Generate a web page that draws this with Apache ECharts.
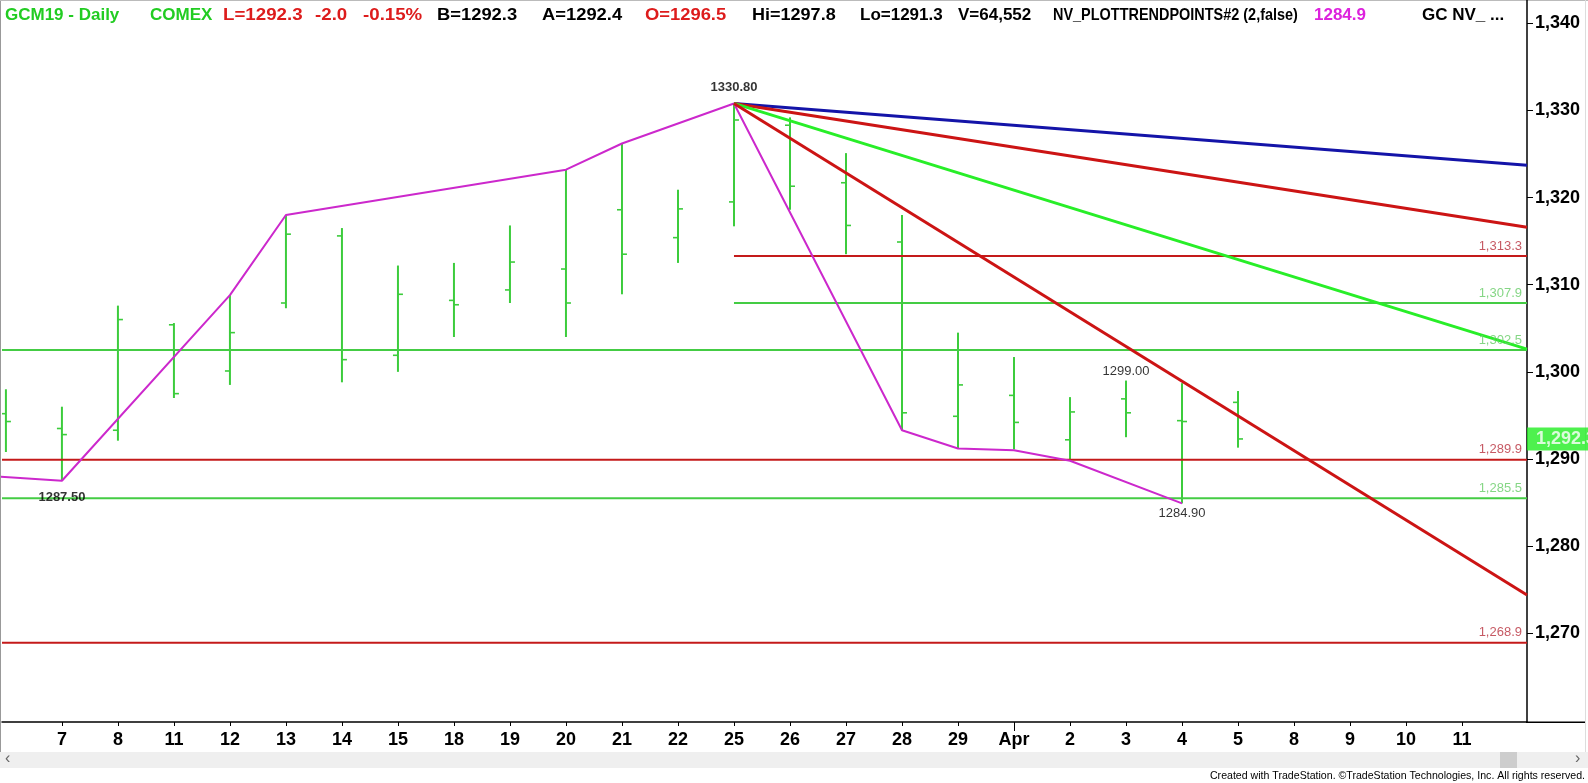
<!DOCTYPE html>
<html><head><meta charset="utf-8">
<script src="https://cdn.jsdelivr.net/npm/echarts@6/dist/echarts.min.js"></script>
<style>html,body{margin:0;padding:0;background:#fff}#c{width:1588px;height:783px}</style>
</head><body><div id="c"></div>
<script>
// ---- data ----
const dayLabels = ['6','7','8','11','12','13','14','15','18','19','20','21','22','25','26','27','28','29','Apr','2','3','4','5','8','9','10','11'];
const opens  = [1295.2,1293.5,1293.3,1305.4,1300.1,1307.9,1315.6,1301.9,1308.2,1309.4,1311.8,1318.6,1315.4,1319.5,1328.3,1321.7,1314.9,1294.9,1297.3,1292.2,1296.9,1294.4,1296.5];
const highs  = [1298.0,1296.0,1307.6,1305.6,1308.8,1318.0,1316.5,1312.2,1312.5,1316.8,1323.2,1326.2,1320.9,1330.8,1329.2,1325.1,1318.0,1304.5,1301.7,1297.1,1299.0,1298.7,1297.8];
const lows   = [1290.8,1287.5,1292.1,1297.0,1298.5,1307.3,1298.8,1300.0,1304.0,1307.9,1304.0,1308.9,1312.5,1316.7,1318.6,1313.5,1293.3,1291.2,1291.1,1290.0,1292.5,1284.9,1291.3];
const closes = [1294.3,1292.8,1306.0,1297.5,1304.5,1315.8,1301.4,1308.9,1307.7,1312.6,1307.9,1313.5,1318.7,1328.9,1321.3,1316.8,1295.3,1298.5,1294.2,1295.4,1295.3,1294.3,1292.3];
const trendIdx  = [-1, 1, 4, 5, 10, 11, 13, 16, 17, 18, 19, 21];
const trendVals = [1288.35,1287.5,1308.8,1318.0,1323.2,1326.2,1330.8,1293.3,1291.2,1291.0,1289.8,1284.9];
const gannAnchorIdx = 13, gannAnchorVal = 1330.8;
const gannEndVals = [1323.7, 1316.6, 1302.6, 1274.4];
const gannColors  = ['#1414a8', '#cc1414', '#28ee28', '#cc1414'];
const levelVals  = [1313.3, 1307.9, 1302.5, 1289.9, 1285.5, 1268.9];
const levelStart = [13, 13, null, null, null, null];
const levelRed   = [true, false, false, true, false, true];
const pivotIdx    = [1, 13, 20, 21];
const pivotVals   = [1287.5, 1330.8, 1299.0, 1284.9];
const pivotText   = ['1287.50', '1330.80', '1299.00', '1284.90'];
const pivotBelow  = [true, false, false, true];
const pivotBold   = [true, true, false, false];
const yTicks = [1270, 1280, 1290, 1300, 1310, 1320, 1330, 1340];
const lastClose = 1292.3;

// ---- layout ----
const X_MIN = -0.07, X_MAX = 27.16, Y_MIN = 1259.82, Y_MAX = 1342.67;
const GREEN_BAR = '#3ccc3c', RED_LV = '#c41a1a', GREEN_LV = '#44cc44';
const FONT = '"Liberation Sans", Arial, sans-serif';
const fmt = v => v.toLocaleString('en-US', {minimumFractionDigits: 1, maximumFractionDigits: 1});

const chart = echarts.init(document.getElementById('c'), null, {renderer: 'canvas'});
const barData = opens.map((o, i) => [i, o, highs[i], lows[i], closes[i]]);

const series = [];
series.push({
  type: 'custom', clip: true, z: 2,
  renderItem(params, api) {
    const x = api.value(0);
    const pH = api.coord([x, api.value(2)]), pL = api.coord([x, api.value(3)]);
    const pO = api.coord([x, api.value(1)]), pC = api.coord([x, api.value(4)]);
    const st = {stroke: GREEN_BAR, lineWidth: 2};
    return {type: 'group', children: [
      {type: 'line', shape: {x1: pH[0], y1: pH[1], x2: pL[0], y2: pL[1]}, style: st},
      {type: 'line', shape: {x1: pO[0] - 5, y1: pO[1], x2: pO[0], y2: pO[1]}, style: {stroke: GREEN_BAR, lineWidth: 1.6}},
      {type: 'line', shape: {x1: pC[0], y1: pC[1], x2: pC[0] + 5, y2: pC[1]}, style: {stroke: GREEN_BAR, lineWidth: 1.6}}
    ]};
  },
  encode: {x: 0, y: [1, 2, 3, 4]},
  data: barData
});
levelVals.forEach((v, i) => {
  series.push({
    type: 'line', z: 3, symbol: 'none', silent: true,
    lineStyle: {color: levelRed[i] ? RED_LV : GREEN_LV, width: 2},
    data: [[levelStart[i] === null ? X_MIN : levelStart[i], v], [X_MAX, v]]
  });
});
series.push({
  type: 'scatter', z: 6, symbolSize: 0, silent: true,
  data: levelVals.map((v, i) => ({value: [X_MAX, v], label: {color: levelRed[i] ? '#b8303c' : '#66cc66'}})),
  label: {show: true, position: 'left', distance: 5, offset: [0, -10], fontFamily: FONT, fontSize: 13,
    formatter: p => fmt(p.value[1])}
});
series.push({
  type: 'line', z: 4, symbol: 'none', silent: true,
  lineStyle: {color: '#cc28cc', width: 2},
  data: trendIdx.map((x, i) => [x, trendVals[i]])
});
gannEndVals.forEach((v, i) => {
  series.push({
    type: 'line', z: 5, symbol: 'none', silent: true,
    lineStyle: {color: gannColors[i], width: 3},
    data: [[gannAnchorIdx, gannAnchorVal], [X_MAX, v]]
  });
});
series.push({
  type: 'scatter', z: 7, symbolSize: 0, silent: true,
  data: pivotIdx.map((x, i) => ({
    value: [x, pivotVals[i]],
    label: {position: pivotBelow[i] ? 'bottom' : 'top', distance: pivotBold[i] ? 10 : 3,
      fontWeight: pivotBold[i] ? 'bold' : 'normal', formatter: pivotText[i]}
  })),
  label: {show: true, color: '#000', fontFamily: FONT, fontSize: 13}
});
series.push({
  type: 'scatter', z: 8, symbolSize: 0, silent: true,
  data: [[X_MAX, lastClose]],
  label: {show: true, position: 'right', distance: 0, color: '#fff', backgroundColor: '#22ee22',
    fontFamily: FONT, fontWeight: 'bold', fontSize: 18, padding: [3, 6, 2, 9],
    formatter: p => fmt(p.value[1])}
});

// header tokens: text, x, colour, horizontal squeeze
const hdr = [
  ['GCM19 - Daily', 5, '#22cc22', 1], ['COMEX', 150, '#22cc22', 1],
  ['L=1292.3', 223, '#dd1c1c', 1.1], ['-2.0', 315, '#dd1c1c', 1.1], ['-0.15%', 363, '#dd1c1c', 1.1],
  ['B=1292.3', 437, '#000', 1.08], ['A=1292.4', 542, '#000', 1.08], ['O=1296.5', 645, '#dd1c1c', 1.08],
  ['Hi=1297.8', 752, '#000', 1.06], ['Lo=1291.3', 860, '#000', 1.0], ['V=64,552', 958, '#000', 1.0],
  ['NV_PLOTTRENDPOINTS#2 (2,false)', 1053, '#000', 0.85], ['1284.9', 1314, '#dd22dd', 1.0], ['GC NV_ ...', 1422, '#000', 1.0]
];
const graphic = [
  {type: 'rect', shape: {x: 0, y: 752, width: 1588, height: 16}, style: {fill: '#efefef'}, z: 0},
  {type: 'rect', shape: {x: 1500, y: 752, width: 17, height: 16}, style: {fill: '#cdcdcd'}, z: 1},
  {type: 'text', style: {text: '‹', x: 5, y: 759, fill: '#666', font: '16px ' + FONT, textVerticalAlign: 'middle'}},
  {type: 'text', style: {text: '›', x: 1575, y: 759, fill: '#666', font: '16px ' + FONT, textVerticalAlign: 'middle'}},
  {type: 'line', shape: {x1: 0.5, y1: 0, x2: 0.5, y2: 752}, style: {stroke: '#999', lineWidth: 1}},
  {type: 'line', shape: {x1: 0, y1: 0.5, x2: 1588, y2: 0.5}, style: {stroke: '#bbb', lineWidth: 1}},
  {type: 'line', shape: {x1: 1585.5, y1: 0, x2: 1585.5, y2: 752}, style: {stroke: '#ddd', lineWidth: 1}},
  {type: 'line', shape: {x1: 1526, y1: 722.25, x2: 1585, y2: 722.25}, style: {stroke: '#000', lineWidth: 1.5}},
  {type: 'text', style: {text: 'Created with TradeStation. ©TradeStation Technologies, Inc. All rights reserved.',
    x: 1585, y: 776, fill: '#000', font: '10.6px ' + FONT, textAlign: 'right', textVerticalAlign: 'middle'}}
].concat(hdr.map(h => ({type: 'text', z: 10, x: h[1], y: 15, scaleX: h[3],
  style: {text: h[0], x: 0, y: 0, fill: h[2], font: 'bold 17px ' + FONT, textVerticalAlign: 'middle'}})));

chart.setOption({
  animation: false,
  backgroundColor: '#fff',
  grid: {left: 2, right: 61, top: 0, bottom: 61},
  xAxis: [{
    type: 'value', min: X_MIN, max: X_MAX, splitLine: {show: false},
    axisLine: {onZero: false, lineStyle: {color: '#000', width: 1.5}},
    axisTick: {show: true, length: 4, inside: false, customValues: dayLabels.map((d, i) => i).slice(1), lineStyle: {color: '#000'}},
    axisLabel: {customValues: dayLabels.map((d, i) => i).slice(1), formatter: v => dayLabels[Math.round(v)],
      color: '#000', fontFamily: FONT, fontWeight: 'bold', fontSize: 18, margin: 9}
  }, {
    type: 'value', min: X_MIN, max: X_MAX, position: 'bottom', splitLine: {show: false},
    axisLine: {show: false, onZero: false}, axisLabel: {show: false},
    axisTick: {show: true, length: 9, customValues: [dayLabels.indexOf('Apr')], lineStyle: {color: '#000'}}
  }],
  yAxis: {
    type: 'value', position: 'right', min: Y_MIN, max: Y_MAX, splitLine: {show: false},
    axisLine: {show: true, onZero: false, lineStyle: {color: '#000', width: 1.5}},
    axisTick: {show: true, length: 6, customValues: yTicks, lineStyle: {color: '#000'}},
    axisLabel: {customValues: yTicks, formatter: v => v.toLocaleString('en-US'),
      color: '#000', fontFamily: FONT, fontWeight: 'bold', fontSize: 18, margin: 8}
  },
  graphic: graphic,
  series: series
});
</script></body></html>
